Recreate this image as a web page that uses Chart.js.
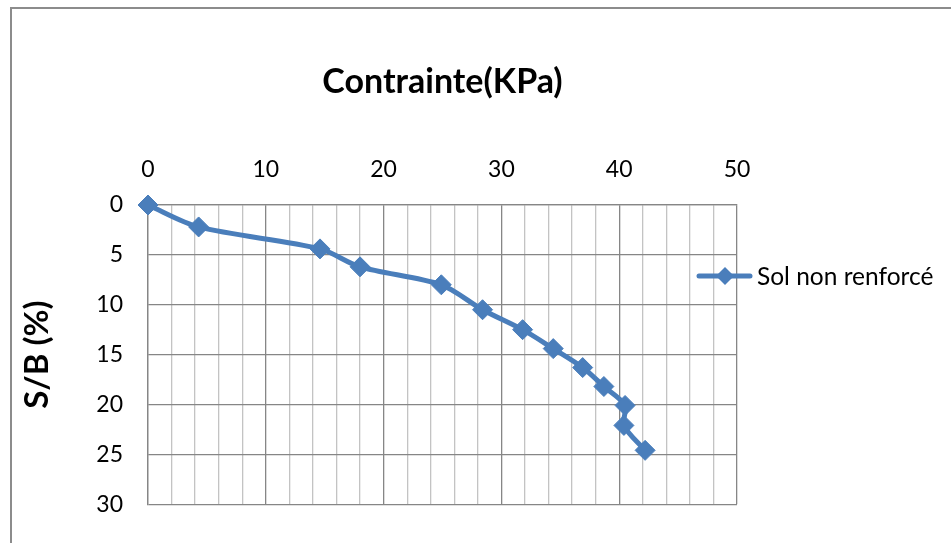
<!DOCTYPE html>
<html>
<head>
<meta charset="utf-8">
<script src="https://cdn.jsdelivr.net/npm/chart.js@4/dist/chart.umd.min.js"></script>
<style>
  html, body { margin: 0; padding: 0; background: #ffffff; }
  #wrap { width: 951px; height: 543px; }
</style>
</head>
<body>
<div id="wrap"><canvas id="c" width="951" height="543"></canvas></div>
<script>
// Contrainte (kPa) versus tassement relatif S/B (%)
const contrainte = [0, 4.3, 14.6, 18.0, 24.9, 28.4, 31.8, 34.4, 36.9, 38.7, 40.5, 40.4, 42.2];
const tassement  = [0, 2.2, 4.4, 6.2, 8.0, 10.5, 12.5, 14.4, 16.3, 18.2, 20.1, 22.1, 24.6];
const seriesName = 'Sol non renforcé';
const chartTitle = 'Contrainte(KPa)';
const yTitle = 'S/B (%)';
const xTickLabels = [0, 10, 20, 30, 40, 50];
const yTickLabels = [0, 5, 10, 15, 20, 25, 30];

const BLUE = '#4a7ebb';
const FONT = 'Lato, "Open Sans", sans-serif';
const TITLE_SIZE = 34;
const TITLE_LH = 1.2;
const TITLE_PAD_TOP = 62;
const TITLE_PAD_BOTTOM = 8;

// frame around the whole chart, and the legend entry with its marker
const decor = {
  id: 'decor',
  beforeDraw(chart) {
    const ctx = chart.ctx;
    ctx.save();
    ctx.strokeStyle = '#8c8c8c';
    ctx.lineWidth = 2;
    ctx.strokeRect(11, 8, 960, 560);
    ctx.restore();
  },
  afterDraw(chart) {
    const ctx = chart.ctx;
    const y = 276;
    ctx.save();
    ctx.strokeStyle = BLUE;
    ctx.lineWidth = 5;
    ctx.lineCap = 'round';
    ctx.beginPath();
    ctx.moveTo(699, y);
    ctx.lineTo(750, y);
    ctx.stroke();
    ctx.fillStyle = BLUE;
    ctx.beginPath();
    ctx.moveTo(725, y - 9);
    ctx.lineTo(734, y);
    ctx.lineTo(725, y + 9);
    ctx.lineTo(716, y);
    ctx.closePath();
    ctx.fill();
    ctx.fillStyle = '#000000';
    ctx.font = '24.5px ' + FONT;
    ctx.textBaseline = 'middle';
    ctx.textAlign = 'left';
    ctx.fillText(seriesName, 757, y + 1);
    ctx.restore();
  }
};

new Chart(document.getElementById('c'), {
  type: 'line',
  data: {
    datasets: [{
      label: seriesName,
      data: contrainte.map((x, i) => ({ x: x, y: tassement[i] })),
      borderColor: BLUE,
      backgroundColor: BLUE,
      borderWidth: 5,
      tension: 0.3,
      pointStyle: 'rectRot',
      pointRadius: 10,
      pointHoverRadius: 10,
      pointBackgroundColor: BLUE,
      pointBorderColor: BLUE,
      pointBorderWidth: 1,
      clip: false
    }]
  },
  options: {
    responsive: false,
    animation: false,
    events: [],
    layout: { padding: { left: 0, top: 0, right: 951 - 737, bottom: 543 - 505 } },
    plugins: {
      legend: { display: false },
      tooltip: { enabled: false },
      title: {
        display: true,
        text: chartTitle,
        fullSize: false,
        color: '#000000',
        font: { family: FONT, size: TITLE_SIZE, weight: 'bold', lineHeight: TITLE_LH },
        padding: { top: TITLE_PAD_TOP, bottom: TITLE_PAD_BOTTOM }
      }
    },
    scales: {
      x: {
        type: 'linear',
        position: 'top',
        min: 0,
        max: 50,
        afterFit(scale) {
          scale.height = 205 - (TITLE_PAD_TOP + TITLE_SIZE * TITLE_LH + TITLE_PAD_BOTTOM);
        },
        afterBuildTicks(scale) {
          const t = [];
          for (let v = 0; v <= 50; v += 2) t.push({ value: v });
          scale.ticks = t;
        },
        ticks: {
          color: '#000000',
          font: { family: FONT, size: 23 },
          padding: 22,
          maxRotation: 0,
          autoSkip: false,
          callback: (v) => (xTickLabels.includes(v) ? String(v) : '')
        },
        grid: {
          drawTicks: false,
          lineWidth: 1.3,
          color: (c) => (c.tick && c.tick.value % 10 === 0 ? '#868686' : '#c3c3c3')
        },
        border: { display: true, color: '#868686', width: 1.3 }
      },
      y: {
        type: 'linear',
        position: 'left',
        reverse: true,
        min: 0,
        max: 30,
        afterFit(scale) { scale.width = 148; },
        afterBuildTicks(scale) {
          scale.ticks = yTickLabels.map((v) => ({ value: v }));
        },
        ticks: {
          color: '#000000',
          font: { family: FONT, size: 23 },
          padding: 25
        },
        grid: {
          drawTicks: false,
          lineWidth: 1.3,
          color: '#868686'
        },
        border: { display: true, color: '#868686', width: 1.3 },
        title: {
          display: true,
          text: yTitle,
          color: '#000000',
          font: { family: FONT, size: 33, weight: 'bold', lineHeight: 1.2 },
          padding: { top: 18, bottom: 0 }
        }
      }
    }
  },
  plugins: [decor]
});
</script>
</body>
</html>
